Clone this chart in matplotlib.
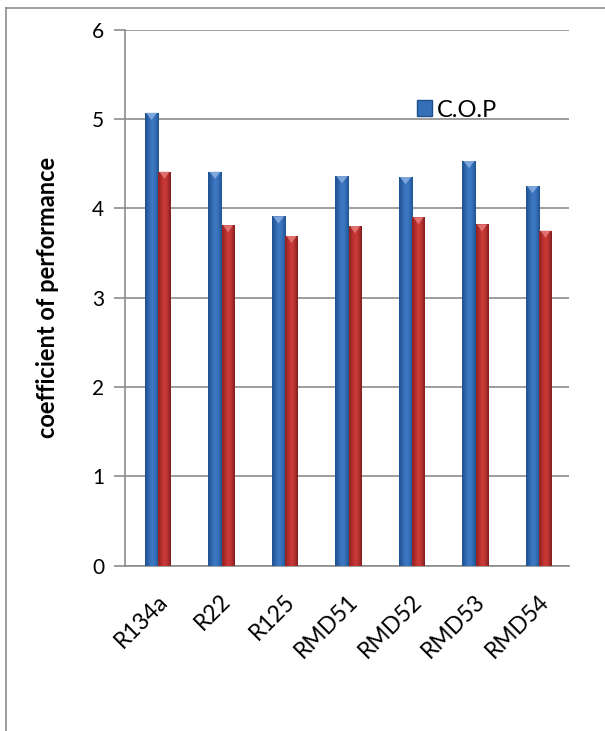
import numpy as np
import matplotlib.pyplot as plt
from matplotlib.colors import LinearSegmentedColormap
from matplotlib.patches import Rectangle, Polygon
from matplotlib.lines import Line2D

# refrigerants and their coefficient of performance
refrigerants = ['R134a', 'R22', 'R125', 'RMD51', 'RMD52', 'RMD53', 'RMD54']
cop_blue = [5.07, 4.41, 3.91, 4.36, 4.35, 4.53, 4.25]
cop_red = [4.41, 3.81, 3.69, 3.80, 3.90, 3.82, 3.75]
legend_label = 'C.O.P'

plt.rcParams['font.family'] = ['Lato', 'DejaVu Sans']

fig = plt.figure(figsize=(6.05, 7.31), dpi=100)
ax = fig.add_axes([0.2066, 0.2264, 0.7347, 0.7330])

# outer frame (only top and left edges fall inside the image)
fig.add_artist(Line2D([6/605, 1], [1-8/731, 1-8/731], color='#8c8c8c', lw=1.2))
fig.add_artist(Line2D([6/605, 6/605], [0, 1-8/731], color='#8c8c8c', lw=1.2))

blue_cmap = LinearSegmentedColormap.from_list(
    'b', ['#1d4f8c', '#2f66ad', '#3f79c4', '#3570b8', '#21528f'])
red_cmap = LinearSegmentedColormap.from_list(
    'r', ['#8e2222', '#b42d2c', '#cc3b38', '#b83230', '#7e1d1d'])
grad = np.linspace(0, 1, 64).reshape(1, -1)


def gradient_bars(xs, heights, width, cmap, cap):
    for x0, h in zip(xs, heights):
        bar = ax.bar(x0, h, width=width, align='edge', color='none', zorder=3)[0]
        im = ax.imshow(grad, cmap=cmap, aspect='auto', zorder=3,
                       extent=(x0, x0 + width, 0, h), interpolation='bicubic')
        im.set_clip_path(bar)
        # bevelled top
        ax.add_patch(Polygon([(x0 + 0.02, h), (x0 + width - 0.02, h),
                              (x0 + width / 2, h - 0.08)],
                             closed=True, color=cap, alpha=0.8, zorder=4, lw=0))


x = np.arange(len(refrigerants))
gradient_bars(x - 0.19, cop_blue, 0.215, blue_cmap, '#8fb3e6')
gradient_bars(x + 0.022, cop_red, 0.2, red_cmap, '#e88080')

ax.set_xlim(-0.5, len(refrigerants) - 0.5)
ax.set_ylim(0, 6)
ax.set_yticks(range(7))
ax.yaxis.grid(True, color='#8c8c8c', lw=1.2)
ax.set_axisbelow(True)
for s in ['top', 'right']:
    ax.spines[s].set_visible(False)
for s in ['left', 'bottom']:
    ax.spines[s].set_color('#8c8c8c')
    ax.spines[s].set_linewidth(1.2)
ax.tick_params(axis='y', length=8, color='#8c8c8c', width=1.2,
               labelsize=15, pad=7)
ax.tick_params(axis='x', length=0, labelsize=16.5, pad=18)
ax.set_xticks(x)
ax.set_xticklabels(refrigerants, rotation=45, ha='right',
                   rotation_mode='anchor')
ax.set_ylabel('coefficient of performance', fontsize=17,
              fontweight='bold', labelpad=24)

handle = Rectangle((0, 0), 1, 1, facecolor='#3570b8', edgecolor='#1d4f8c')
ax.legend([handle], [legend_label], loc='center left',
          bbox_to_anchor=(0.657, 0.85), frameon=False, fontsize=17,
          borderaxespad=0, borderpad=0,
          handlelength=0.65, handleheight=0.65, handletextpad=0.2)

fig.savefig('out.png', dpi=100)
